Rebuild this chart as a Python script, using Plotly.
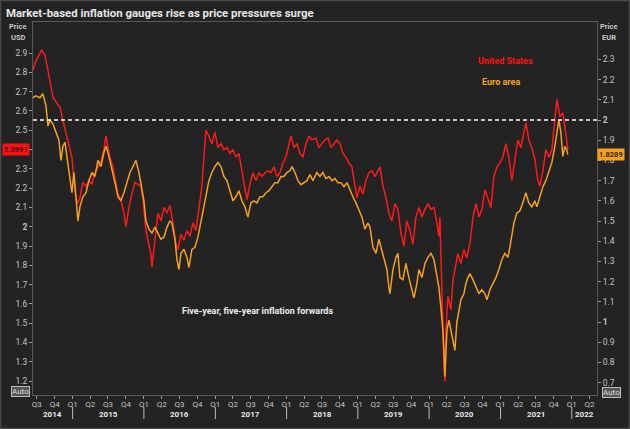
import pandas as pd
import plotly.graph_objects as go

# ---------------- data ----------------
us_years = [2014.443, 2014.485, 2014.565, 2014.612, 2014.654, 2014.682, 2014.724, 2014.780, 2014.822, 2014.864,
            2014.920, 2014.962, 2014.990, 2015.018, 2015.046, 2015.074, 2015.102, 2015.144, 2015.187, 2015.229,
            2015.271, 2015.313, 2015.355, 2015.397, 2015.439, 2015.467, 2015.495, 2015.523, 2015.565, 2015.607,
            2015.635, 2015.677, 2015.719, 2015.748, 2015.790, 2015.832, 2015.874, 2015.916, 2015.958, 2015.986,
            2016.028, 2016.056, 2016.098, 2016.112, 2016.154, 2016.196, 2016.238, 2016.281, 2016.323, 2016.365,
            2016.407, 2016.449, 2016.477, 2016.519, 2016.561, 2016.603, 2016.645, 2016.687, 2016.729, 2016.771,
            2016.813, 2016.841, 2016.869, 2016.911, 2016.953, 2016.996, 2017.038, 2017.080, 2017.122, 2017.164,
            2017.206, 2017.248, 2017.290, 2017.332, 2017.374, 2017.416, 2017.444, 2017.486, 2017.528, 2017.571,
            2017.613, 2017.655, 2017.697, 2017.739, 2017.781, 2017.823, 2017.865, 2017.907, 2017.949, 2017.991,
            2018.033, 2018.062, 2018.104, 2018.146, 2018.188, 2018.230, 2018.272, 2018.314, 2018.356, 2018.412,
            2018.454, 2018.496, 2018.538, 2018.581, 2018.623, 2018.665, 2018.707, 2018.749, 2018.791, 2018.833,
            2018.875, 2018.917, 2018.959, 2018.987, 2019.029, 2019.071, 2019.113, 2019.155, 2019.197, 2019.240,
            2019.282, 2019.310, 2019.352, 2019.394, 2019.436, 2019.478, 2019.520, 2019.562, 2019.604, 2019.646,
            2019.688, 2019.730, 2019.772, 2019.814, 2019.856, 2019.899, 2019.941, 2019.983, 2020.025, 2020.067,
            2020.109, 2020.137, 2020.151, 2020.165, 2020.179, 2020.193, 2020.207, 2020.221, 2020.235, 2020.263,
            2020.305, 2020.333, 2020.361, 2020.403, 2020.445, 2020.487, 2020.529, 2020.571, 2020.614, 2020.656,
            2020.698, 2020.740, 2020.782, 2020.824, 2020.866, 2020.908, 2020.950, 2020.992, 2021.034, 2021.076,
            2021.118, 2021.160, 2021.202, 2021.244, 2021.286, 2021.328, 2021.356, 2021.398, 2021.440, 2021.482,
            2021.524, 2021.553, 2021.595, 2021.637, 2021.679, 2021.721, 2021.763, 2021.791, 2021.833, 2021.875,
            2021.917, 2021.945]
us_values = [2.81, 2.86, 2.915, 2.89, 2.81, 2.76, 2.67, 2.64, 2.62, 2.55,
             2.46, 2.41, 2.36, 2.24, 2.15, 2.12, 2.15, 2.23, 2.21, 2.24,
             2.22, 2.28, 2.31, 2.34, 2.40, 2.47, 2.41, 2.36, 2.31, 2.22,
             2.17, 2.14, 2.07, 2.00, 2.10, 2.17, 2.23, 2.22, 2.21, 2.14,
             1.98, 1.93, 1.86, 1.79, 1.93, 2.07, 2.03, 2.10, 2.07, 2.11,
             2.02, 1.91, 1.88, 1.96, 1.93, 1.98, 1.95, 2.02, 1.98, 2.09,
             2.21, 2.36, 2.50, 2.47, 2.43, 2.49, 2.41, 2.43, 2.40, 2.41,
             2.38, 2.40, 2.36, 2.38, 2.29, 2.22, 2.14, 2.22, 2.28, 2.24,
             2.28, 2.26, 2.28, 2.29, 2.28, 2.31, 2.26, 2.28, 2.33, 2.36,
             2.43, 2.47, 2.41, 2.43, 2.38, 2.36, 2.43, 2.47, 2.45, 2.46,
             2.41, 2.43, 2.45, 2.46, 2.41, 2.43, 2.45, 2.43, 2.38, 2.36,
             2.33, 2.31, 2.22, 2.15, 2.21, 2.17, 2.24, 2.28, 2.29, 2.26,
             2.29, 2.31, 2.21, 2.15, 2.07, 2.03, 2.12, 2.09, 1.97, 1.90,
             2.03, 1.98, 1.91, 2.05, 2.10, 2.05, 2.09, 2.12, 2.09, 2.10,
             2.02, 1.95, 2.05, 1.84, 1.64, 1.46, 1.29, 1.20, 1.46, 1.64,
             1.57, 1.72, 1.78, 1.86, 1.81, 1.88, 1.84, 1.91, 2.05, 2.12,
             2.05, 2.09, 2.19, 2.15, 2.10, 2.26, 2.31, 2.33, 2.36, 2.43,
             2.36, 2.24, 2.36, 2.45, 2.41, 2.49, 2.54, 2.45, 2.41, 2.35,
             2.24, 2.21, 2.29, 2.40, 2.36, 2.40, 2.57, 2.66, 2.57, 2.59,
             2.48, 2.3991]

eu_years = [2014.443, 2014.485, 2014.541, 2014.583, 2014.626, 2014.654, 2014.682, 2014.724, 2014.766, 2014.808,
            2014.836, 2014.864, 2014.892, 2014.920, 2014.948, 2014.976, 2014.990, 2015.018, 2015.046, 2015.074,
            2015.102, 2015.144, 2015.187, 2015.229, 2015.271, 2015.313, 2015.355, 2015.397, 2015.439, 2015.467,
            2015.495, 2015.523, 2015.565, 2015.607, 2015.635, 2015.677, 2015.719, 2015.762, 2015.804, 2015.846,
            2015.888, 2015.930, 2015.958, 2016.000, 2016.028, 2016.070, 2016.112, 2016.154, 2016.196, 2016.238,
            2016.281, 2016.323, 2016.365, 2016.393, 2016.435, 2016.463, 2016.491, 2016.519, 2016.561, 2016.603,
            2016.631, 2016.673, 2016.715, 2016.757, 2016.785, 2016.827, 2016.869, 2016.911, 2016.953, 2016.996,
            2017.038, 2017.080, 2017.122, 2017.164, 2017.206, 2017.248, 2017.290, 2017.332, 2017.374, 2017.416,
            2017.458, 2017.500, 2017.543, 2017.585, 2017.627, 2017.669, 2017.711, 2017.753, 2017.795, 2017.837,
            2017.879, 2017.921, 2017.963, 2018.005, 2018.048, 2018.076, 2018.118, 2018.160, 2018.202, 2018.244,
            2018.286, 2018.328, 2018.370, 2018.426, 2018.468, 2018.510, 2018.552, 2018.595, 2018.637, 2018.679,
            2018.721, 2018.763, 2018.805, 2018.847, 2018.889, 2018.931, 2018.973, 2019.015, 2019.057, 2019.099,
            2019.141, 2019.170, 2019.212, 2019.254, 2019.296, 2019.324, 2019.366, 2019.408, 2019.436, 2019.450,
            2019.492, 2019.534, 2019.562, 2019.590, 2019.632, 2019.674, 2019.716, 2019.758, 2019.786, 2019.828,
            2019.856, 2019.899, 2019.941, 2019.983, 2020.025, 2020.067, 2020.109, 2020.137, 2020.165, 2020.193,
            2020.207, 2020.221, 2020.249, 2020.277, 2020.305, 2020.333, 2020.361, 2020.389, 2020.417, 2020.445,
            2020.487, 2020.515, 2020.543, 2020.571, 2020.614, 2020.656, 2020.698, 2020.740, 2020.782, 2020.810,
            2020.852, 2020.894, 2020.936, 2020.978, 2021.020, 2021.062, 2021.104, 2021.132, 2021.160, 2021.188,
            2021.230, 2021.272, 2021.314, 2021.356, 2021.398, 2021.440, 2021.482, 2021.510, 2021.553, 2021.595,
            2021.637, 2021.679, 2021.721, 2021.763, 2021.791, 2021.819, 2021.847, 2021.875, 2021.903, 2021.931,
            2021.945]
eu_values = [2.11, 2.12, 2.11, 2.13, 2.07, 1.97, 2.00, 1.98, 1.94, 1.90,
             1.80, 1.87, 1.89, 1.82, 1.77, 1.70, 1.64, 1.74, 1.60, 1.50,
             1.57, 1.62, 1.64, 1.70, 1.74, 1.72, 1.80, 1.77, 1.84, 1.87,
             1.84, 1.80, 1.74, 1.67, 1.62, 1.60, 1.64, 1.69, 1.74, 1.77,
             1.80, 1.74, 1.69, 1.60, 1.50, 1.46, 1.44, 1.47, 1.44, 1.41,
             1.42, 1.47, 1.50, 1.49, 1.41, 1.31, 1.26, 1.34, 1.36, 1.32,
             1.27, 1.36, 1.37, 1.42, 1.47, 1.55, 1.64, 1.70, 1.74, 1.77,
             1.79, 1.77, 1.72, 1.70, 1.65, 1.60, 1.62, 1.65, 1.60, 1.57,
             1.52, 1.59, 1.60, 1.59, 1.62, 1.62, 1.64, 1.65, 1.67, 1.69,
             1.69, 1.72, 1.72, 1.74, 1.75, 1.77, 1.74, 1.70, 1.68, 1.69,
             1.70, 1.73, 1.70, 1.74, 1.72, 1.74, 1.71, 1.72, 1.70, 1.71,
             1.69, 1.69, 1.67, 1.69, 1.65, 1.62, 1.59, 1.55, 1.52, 1.46,
             1.49, 1.47, 1.37, 1.34, 1.41, 1.37, 1.31, 1.26, 1.17, 1.14,
             1.26, 1.32, 1.34, 1.22, 1.21, 1.29, 1.22, 1.16, 1.12, 1.19,
             1.26, 1.22, 1.29, 1.32, 1.34, 1.31, 1.22, 1.17, 1.07, 0.96,
             0.86, 0.73, 0.96, 1.01, 0.96, 0.90, 0.86, 1.00, 1.06, 1.11,
             1.14, 1.19, 1.22, 1.24, 1.21, 1.17, 1.14, 1.16, 1.14, 1.11,
             1.16, 1.19, 1.22, 1.26, 1.31, 1.34, 1.32, 1.37, 1.44, 1.49,
             1.54, 1.55, 1.59, 1.64, 1.59, 1.57, 1.60, 1.57, 1.62, 1.67,
             1.70, 1.75, 1.79, 1.87, 1.94, 2.00, 1.94, 1.82, 1.87, 1.85,
             1.8289]

us_last = "2.3991"
eu_last = "1.8289"
ref_level_eur = 2.0

left_ticks = [1.2, 1.3, 1.4, 1.5, 1.6, 1.7, 1.8, 1.9, 2.0, 2.1, 2.2, 2.3, 2.4, 2.5, 2.6, 2.7, 2.8, 2.9]
right_ticks = [0.7, 0.8, 0.9, 1.0, 1.1, 1.2, 1.3, 1.4, 1.5, 1.6, 1.7, 1.8, 1.9, 2.0, 2.1, 2.2, 2.3]
quarter_dates = pd.date_range("2014-07-01", "2022-04-01", freq="QS")
quarter_labels = ["Q%d" % ((d.month - 1) // 3 + 1) for d in quarter_dates]
years = [2014, 2015, 2016, 2017, 2018, 2019, 2020, 2021, 2022]

x_start = "2014-06-12"
x_end = "2022-05-10"


def to_dates(yrs):
    base = pd.Timestamp("2015-01-01")
    return [base + pd.to_timedelta((y - 2015) * 365.25, unit="D") for y in yrs]


BG = "#232323"
GRID = "#5a5a5a"
TXT = "#c4c4c4"
RED = "#ff1a1a"
ORANGE = "#f5a11c"
FONT = "Roboto, Liberation Sans, sans-serif"

W, H = 630, 429
L, R, T, B = 33, 33, 22, 34
pw, ph = W - L - R, H - T - B


def px(x):
    return (x - L) / pw


def py(y):
    return (H - B - y) / ph


fig = go.Figure()
fig.add_trace(go.Scatter(x=to_dates(us_years), y=us_values, mode="lines",
                         line=dict(color=RED, width=1.5), name="United States",
                         yaxis="y"))
fig.add_trace(go.Scatter(x=to_dates(eu_years), y=eu_values, mode="lines",
                         line=dict(color=ORANGE, width=1.5), name="Euro area",
                         yaxis="y2"))


def fmt(v):
    s = "%g" % v
    return "<b>%s</b>" % s if abs(v - round(v)) < 1e-9 else s


# the latest-value tag on the left axis covers the 2.4 label
left_text = ["" if abs(v - float(us_last)) < 0.05 else fmt(v) for v in left_ticks]
right_text = [fmt(v) for v in right_ticks]

fig.update_layout(
    width=W, height=H,
    margin=dict(l=L, r=R, t=T, b=B),
    paper_bgcolor=BG, plot_bgcolor=BG,
    showlegend=False,
    hovermode=False,
    font=dict(family=FONT, color=TXT, size=9),
    title=dict(text="<b>Market-based inflation gauges rise as price pressures surge</b>",
               x=6 / W, xanchor="left", xref="container",
               y=1 - 13 / H, yanchor="middle", yref="container",
               font=dict(size=11.4, color="#e6e6e6", family=FONT)),
    xaxis=dict(type="date", range=[x_start, x_end], showgrid=False, zeroline=False,
               tickvals=list(quarter_dates), ticktext=quarter_labels,
               ticks="outside", ticklen=3, tickcolor="#9a9a9a", tickfont=dict(size=8, color=TXT),
               ticklabelstandoff=-2,
               showline=True, linecolor=GRID, linewidth=1, mirror=True),
    yaxis=dict(range=[1.128, 3.061], showgrid=False, zeroline=False,
               tickvals=left_ticks, ticktext=left_text,
               ticks="outside", ticklen=3, tickcolor="#9a9a9a", tickfont=dict(size=8.5, color=TXT),
               showline=True, linecolor=GRID, linewidth=1),
    yaxis2=dict(range=[0.639, 2.485], overlaying="y", side="right", showgrid=False, zeroline=False,
                tickvals=right_ticks, ticktext=right_text,
                ticks="outside", ticklen=3, tickcolor="#9a9a9a", tickfont=dict(size=8.5, color=TXT),
                showline=True, linecolor=GRID, linewidth=1),
)

shapes = []
# dashed reference line at EUR 2.0
shapes.append(dict(type="line", xref="paper", yref="y2", x0=0, x1=1, y0=ref_level_eur, y1=ref_level_eur,
                   line=dict(color="#ffffff", width=1.5, dash="4px,3px")))
# year dividers below the quarter labels
for yr in years[1:]:
    shapes.append(dict(type="line", xref="x", yref="paper",
                       x0="%d-01-01" % yr, x1="%d-01-01" % yr, y0=py(407), y1=py(419),
                       line=dict(color="#bdbdbd", width=1)))
# outer frame
shapes.append(dict(type="rect", xref="paper", yref="paper", x0=px(0.5), x1=px(629.5), y0=py(428.5), y1=py(0.5),
                   line=dict(color="#4a4a4a", width=1.5), fillcolor="rgba(0,0,0,0)", layer="below"))
fig.update_layout(shapes=shapes)

ann = []
xs = pd.Timestamp(x_start)
xe = pd.Timestamp(x_end)
for yr in years:
    a = max(pd.Timestamp("%d-01-01" % yr), xs)
    b = min(pd.Timestamp("%d-01-01" % (yr + 1)), xe)
    mid = a + (b - a) / 2
    ann.append(dict(x=mid, xref="x", y=py(414), yref="paper", text="<b>%d</b>" % yr, showarrow=False,
                    font=dict(size=8, color="#e8e8e8"), xanchor="center", yanchor="middle"))

ann += [
    dict(x=px(18), y=py(26), xref="paper", yref="paper", text="<b>Price</b>", showarrow=False,
         font=dict(size=7.5, color=TXT), xanchor="center", yanchor="middle"),
    dict(x=px(18), y=py(37), xref="paper", yref="paper", text="<b>USD</b>", showarrow=False,
         font=dict(size=7.5, color=TXT), xanchor="center", yanchor="middle"),
    dict(x=px(609), y=py(26), xref="paper", yref="paper", text="<b>Price</b>", showarrow=False,
         font=dict(size=7.5, color=TXT), xanchor="center", yanchor="middle"),
    dict(x=px(609), y=py(37), xref="paper", yref="paper", text="<b>EUR</b>", showarrow=False,
         font=dict(size=7.5, color=TXT), xanchor="center", yanchor="middle"),
    dict(x=px(505), y=py(61), xref="paper", yref="paper", text="<b>United States</b>", showarrow=False,
         font=dict(size=9, color="#ff1010"), xanchor="center", yanchor="middle"),
    dict(x=px(501), y=py(82), xref="paper", yref="paper", text="<b>Euro area</b>", showarrow=False,
         font=dict(size=9, color=ORANGE), xanchor="center", yanchor="middle"),
    dict(x=px(257), y=py(311), xref="paper", yref="paper", text="<b>Five-year, five-year inflation forwards</b>",
         showarrow=False, font=dict(size=9, color="#ececec"), xanchor="center", yanchor="middle"),
    dict(x=px(16), y=float(us_last), xref="paper", yref="y", text="<b>%s</b>" % us_last, showarrow=False,
         font=dict(size=7.5, color="#3a0000"), bgcolor="#ff1010", xanchor="center", yanchor="middle",
         borderpad=1),
    dict(x=px(611), y=float(eu_last), xref="paper", yref="y2", text="<b>%s</b>" % eu_last, showarrow=False,
         font=dict(size=7.5, color="#3a2200"), bgcolor=ORANGE, xanchor="center", yanchor="middle",
         borderpad=1),
    dict(x=px(20), y=py(391.5), xref="paper", yref="paper", text="Auto", showarrow=False,
         font=dict(size=8, color="#dddddd"), bgcolor="#555555", bordercolor="#bbbbbb", borderwidth=1,
         borderpad=0, xanchor="center", yanchor="middle"),
    dict(x=px(611.5), y=py(392), xref="paper", yref="paper", text="Auto", showarrow=False,
         font=dict(size=8, color="#dddddd"), bgcolor="#555555", bordercolor="#bbbbbb", borderwidth=1,
         borderpad=0, xanchor="center", yanchor="middle"),
]
fig.update_layout(annotations=ann)

fig.write_html("out.html", config={"displayModeBar": False, "staticPlot": True},
               post_script="document.body.style.margin='0px';document.body.style.overflow='hidden';")
